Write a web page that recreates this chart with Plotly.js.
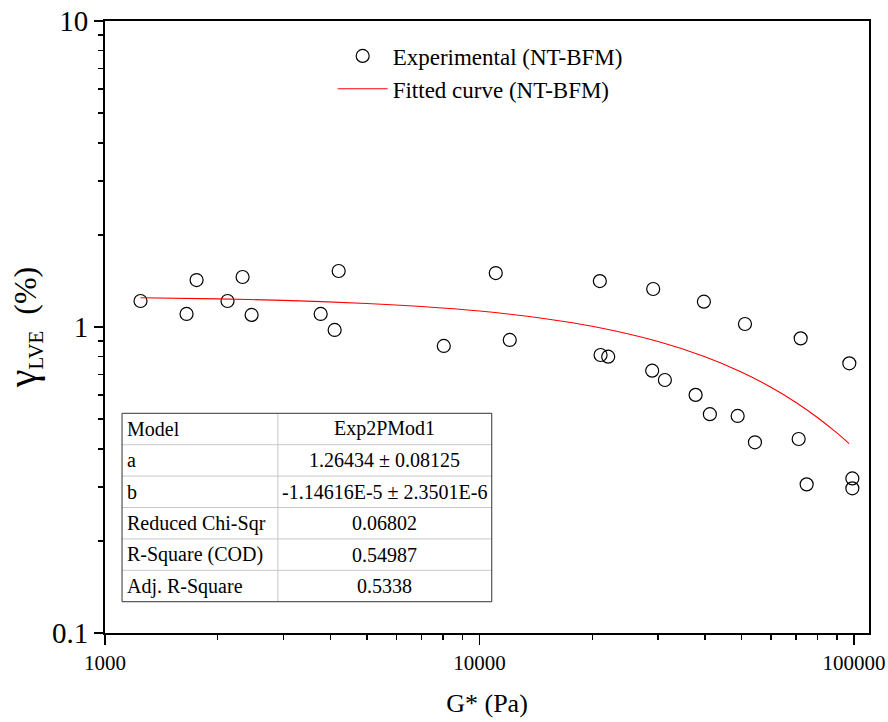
<!DOCTYPE html>
<html>
<head>
<meta charset="utf-8">
<script src="https://cdn.plot.ly/plotly-3.0.1.min.js"></script>
<style>html,body{margin:0;padding:0;background:#fff;}#chart{width:888px;height:722px;}</style>
</head>
<body>
<div id="chart"></div>
<script>
const expG = [1244, 1651, 1756, 2124, 2330, 2463, 3766, 4104, 4207, 8028, 11051, 12044,
  20956, 21050, 22060, 29090, 28910, 31260, 39730, 37760, 41220, 51150, 48900, 54380,
  72040, 71150, 74740, 97150, 98970, 98970];
const expGamma = [1.216, 1.103, 1.424, 1.216, 1.457, 1.095, 1.103, 0.978, 1.524, 0.867, 1.501, 0.907,
  1.413, 0.810, 0.800, 1.331, 0.720, 0.671, 1.210, 0.600, 0.519, 1.023, 0.512, 0.420,
  0.918, 0.4305, 0.306, 0.761, 0.320, 0.297];
// Fitted curve values
const fitG = [1244, 2000, 3000, 5000, 7000, 10000, 15000, 20000, 30000, 40000, 50000, 60000, 70000, 80000, 90000, 97000];
const fitGamma = [1.2464, 1.2357, 1.2216, 1.1939, 1.1669, 1.1274, 1.0646, 1.0053, 0.8965, 0.7994, 0.7128, 0.6356, 0.5668, 0.5054, 0.4507, 0.4159];
// Fit statistics table
const tableLabels = ["Model", "a", "b", "Reduced Chi-Sqr", "R-Square (COD)", "Adj. R-Square"];
const tableValues = ["Exp2PMod1", "1.26434 \u00b1 0.08125", "-1.14616E-5 \u00b1 2.3501E-6", "0.06802", "0.54987", "0.5338"];
const seriesNames = ["Experimental (NT-BFM)", "Fitted curve (NT-BFM)"];

const FONT = "Liberation Serif";

const traces = [
  {x: expG, y: expGamma, type: 'scatter', mode: 'markers', name: seriesNames[0],
   marker: {symbol: 'circle-open', size: 13, color: '#000', line: {width: 1.2, color: '#000'}}},
  {x: fitG, y: fitGamma, type: 'scatter', mode: 'lines', name: seriesNames[1],
   line: {color: '#ff0000', width: 1.1, shape: 'spline'}}
];

// table geometry in axis-domain fractions
const tx0 = 0.0223, tx1 = 0.5062, tdiv = 0.2263, ttop = 0.359, tbot = 0.0511;
const rowH = (ttop - tbot) / tableLabels.length;
const shapes = [];
const annotations = [];
for (let i = 1; i < tableLabels.length; i++) {
  const yy = ttop - i * rowH;
  shapes.push({type: 'line', xref: 'x domain', yref: 'y domain', x0: tx0, x1: tx1, y0: yy, y1: yy,
    line: {color: '#c8c8c8', width: 1}});
}
shapes.push({type: 'line', xref: 'x domain', yref: 'y domain', x0: tdiv, x1: tdiv, y0: tbot, y1: ttop,
  line: {color: '#c8c8c8', width: 1}});
shapes.push({type: 'rect', xref: 'x domain', yref: 'y domain', x0: tx0, x1: tx1, y0: tbot, y1: ttop,
  line: {color: '#333', width: 1}});
tableLabels.forEach((lab, i) => {
  const yc = ttop - (i + 0.5) * rowH;
  annotations.push({xref: 'x domain', yref: 'y domain', x: tx0 + 0.004, y: yc, xanchor: 'left', yanchor: 'middle',
    text: lab, showarrow: false, font: {family: FONT, size: 20, color: '#000'}});
  annotations.push({xref: 'x domain', yref: 'y domain', x: (tdiv + tx1) / 2, y: yc, xanchor: 'center', yanchor: 'middle',
    text: tableValues[i], showarrow: false, font: {family: FONT, size: 20, color: '#000'}});
});

const layout = {
  width: 888, height: 722,
  margin: {l: 105, r: 19, t: 21, b: 89},
  paper_bgcolor: '#fff', plot_bgcolor: '#fff',
  font: {family: FONT, color: '#000'},
  showlegend: true,
  legend: {x: 0.298, y: 0.978, xanchor: 'left', yanchor: 'top', bgcolor: 'rgba(0,0,0,0)',
    itemwidth: 50, font: {family: FONT, size: 23, color: '#000'}},
  xaxis: {type: 'log', range: [3, 5.04], tickmode: 'linear', tick0: 0, dtick: 1,
    tickformat: 'd', showgrid: false, zeroline: false,
    showline: true, linecolor: '#000', linewidth: 2, mirror: true,
    ticks: 'outside', ticklen: 10, tickwidth: 1.5, tickcolor: '#000',
    minor: {ticks: 'outside', ticklen: 5, tickwidth: 1.5, tickcolor: '#000', showgrid: false},
    tickfont: {family: FONT, size: 21, color: '#000'},
    title: {text: 'G* (Pa)', font: {family: FONT, size: 26, color: '#000'}, standoff: 20}},
  yaxis: {type: 'log', range: [-1, 1], tickmode: 'linear', tick0: 0, dtick: 1,
    exponentformat: 'none', showgrid: false, zeroline: false,
    showline: true, linecolor: '#000', linewidth: 2, mirror: true,
    ticks: 'outside', ticklen: 9, tickwidth: 1.5, tickcolor: '#000',
    minor: {ticks: 'outside', ticklen: 5, tickwidth: 1.5, tickcolor: '#000', showgrid: false},
    tickfont: {family: FONT, size: 29, color: '#000'},
    title: {text: '<span style="font-size:40px">\u03b3</span><sub><span style="font-size:21px">LVE</span></sub>\u00a0\u00a0(%)', font: {family: FONT, size: 32, color: '#000'}, standoff: 20}},
  shapes: shapes,
  annotations: annotations
};

Plotly.newPlot('chart', traces, layout, {displayModeBar: false, staticPlot: true});
</script>
</body>
</html>
